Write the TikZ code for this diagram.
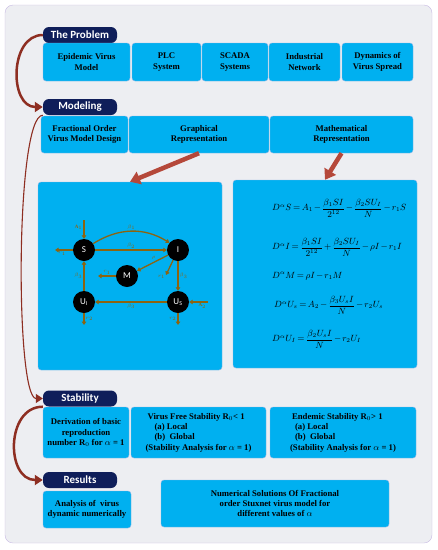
\documentclass[tikz,border=0pt]{standalone}
\usepackage{amsmath}
\usepackage{fontspec}
\setmainfont{Liberation Serif}
\setsansfont{Carlito}
\usetikzlibrary{arrows.meta}
\definecolor{cellblue}{HTML}{00B0F0}
\definecolor{cellline}{HTML}{8FB2E6}
\definecolor{tagnavy}{HTML}{0F1E5A}
\definecolor{pagebg}{HTML}{EDEEF2}
\definecolor{pageline}{HTML}{C7B9E2}
\definecolor{flowred}{HTML}{8E2E22}
\definecolor{bigred}{HTML}{B5483A}
\definecolor{linkbrown}{HTML}{8C6410}
\newcommand{\eqsp}{\medmuskip=2mu\relax\thickmuskip=3mu\relax}
\begin{document}
\begin{tikzpicture}[x=1pt, y=1pt,
    cell/.style = {draw=cellline, fill=cellblue, rounded corners=3pt, align=center, inner sep=1pt, font=\bfseries\fontsize{8.7}{10.3}\selectfont},
    tag/.style = {fill=tagnavy, rounded corners=6pt, text=white, minimum width=74, minimum height=16, inner sep=0pt, font=\sffamily\bfseries\fontsize{11}{12}\selectfont},
    flow/.style = {flowred, line width=2.5pt, -{Triangle[width=10pt,length=8pt]}},
    big/.style = {bigred, line width=4.5pt, -{Triangle[width=13pt,length=10pt]}},
    comp/.style = {circle, fill=black, text=white, minimum size=22, inner sep=0pt, font=\sffamily\fontsize{9}{9}\selectfont},
    link/.style = {linkbrown, line width=1.3pt, -{Triangle[width=4.5pt,length=3.5pt]}},
    rate/.style = {inner sep=1pt, font=\bfseries\fontsize{5}{5}\selectfont},
    eqn/.style = {anchor=west, inner sep=0pt, font=\fontsize{9}{11}\selectfont}]
    \useasboundingbox (0,0) rectangle (438,-550);
    \draw[pageline, fill=pagebg, rounded corners=8pt] (5,-5) rectangle (432,-543);

    % section tags
    \node[tag] (prob) at (80,-35) {The Problem};
    \node[tag] (mod) at (80,-107) {Modeling};
    \node[tag] (stab) at (80,-398.5) {Stability};
    \node[tag] (res) at (80,-480) {Results};

    % the problem
    \node[cell, minimum width=87, minimum height=38] (p1) at (86.5,-62) {Epidemic Virus\\Model};
    \node[cell, minimum width=69, minimum height=38] (p2) at (166.5,-62) {PLC\\System};
    \node[cell, minimum width=66, minimum height=38] (p3) at (235,-62) {SCADA\\Systems};
    \node[cell, minimum width=71, minimum height=38] (p4) at (304.5,-62) {Industrial\\Network};
    \node[cell, minimum width=71, minimum height=38] (p5) at (377.5,-62) {Dynamics of\\Virus Spread};

    % modeling
    \node[cell, minimum width=87, minimum height=37] (m1) at (84.5,-134.5) {Fractional Order\\Virus Model Design};
    \node[cell, minimum width=140, minimum height=37] (m2) at (199,-134.5) {Graphical\\Representation};
    \node[cell, minimum width=143, minimum height=37] (m3) at (341.5,-134.5) {Mathematical\\Representation};
    \node[cell, minimum width=184, minimum height=188] (lp) at (130,-276) {};
    \node[cell, minimum width=184, minimum height=188] (rp) at (325,-274) {};

    % stability
    \node[cell, minimum width=86, minimum height=51] (s1) at (86,-432.5) {Derivation of basic\\reproduction\\number R$_0$ for $\alpha$ = 1};
    \node[cell, minimum width=135, minimum height=51, align=left] (s2) at (198.5,-432.5) {\hspace*{2pt}Virus Free Stability R$_0$< 1\\\hspace*{9pt}(a) Local\\\hspace*{9pt}(b)\ \ Global\\(Stability Analysis for $\alpha$ = 1)};
    \node[cell, minimum width=146, minimum height=51, align=left] (s3) at (343,-432.5) {\hspace*{2pt}Endemic Stability R$_0$> 1\\\hspace*{5pt}(a) Local\\\hspace*{5pt}(b)\ \ Global\\(Stability Analysis for $\alpha$ = 1)};

    % results
    \node[cell, minimum width=88, minimum height=37] (r1) at (87,-509.5) {Analysis of\ \ virus\\dynamic numerically};
    \node[cell, minimum width=228, minimum height=47] (r2) at (275,-503.5) {Numerical Solutions Of Fractional\\order Stuxnet virus model for\\different values of $\alpha$};

    % flow arrows
    \draw[flow] (prob.west) to[out=180, in=180, looseness=1.2] (mod.west);
    \draw[flowred, line width=1.1pt, -{Triangle[width=9pt,length=7pt]}] (mod.south west) to[out=180, in=180, looseness=0.25] (stab.west);
    \draw[flow] (stab.south west) to[out=180, in=180, looseness=1.3] (res.west);
    \draw[big] (m2.south) -- (lp.north);
    \draw[big] (m3.south) -- (rp.north);

    % compartments
    \node[comp] (S) at (84,-250) {S};
    \node[comp] (I) at (178,-250) {I};
    \node[comp] (M) at (127,-276) {M};
    \node[comp] (UI) at (84,-302) {U\textsubscript{I}};
    \node[comp] (US) at (178,-302) {U\textsubscript{S}};
    \coordinate (Ain) at (84,-220);
    \coordinate (Sout) at (55,-250);
    \coordinate (Iout) at (166,-275);
    \coordinate (Mout) at (98,-276);
    \coordinate (Bin) at (208,-302);
    \coordinate (UIout) at (84,-325);
    \coordinate (USout) at (178,-325);
    \draw[link] (Ain) -- node[rate, left, pos=0.4] {A$_1$} (S);
    \draw[link] (S) -- node[rate, below, pos=0.6] {$r_1$} (Sout);
    \draw[link] (S.35) to[out=32, in=148] node[rate, above] {$\beta_1$} (I.140);
    \draw[link] (S) -- node[rate, above] {$\beta_2$} (I);
    \draw[link] (I) -- node[rate, above left, pos=0.35] {$\rho$} (M);
    \draw[link] (I) -- node[rate, below left, pos=0.9] {$r_1$} (Iout);
    \draw[link] (I) -- node[rate, right] {$\beta_3$} (US);
    \draw[link] (M) -- node[rate, above] {$r_1$} (Mout);
    \draw[link] (UI) -- node[rate, left] {$\beta_3$} (S);
    \draw[link] (US) -- node[rate, below] {$\beta_3$} (UI);
    \draw[link] (Bin) -- node[rate, below, pos=0.3] {A$_2$} (US);
    \draw[link] (UI) -- node[rate, right] {$r_2$} (UIout);
    \draw[link] (US) -- node[rate, left] {$r_2$} (USout);

    % equations
    \node[eqn] (e1) at (272,-208) {\eqsp$D^{\alpha}S = A_1 - \dfrac{\beta_1 SI}{2^{12}} - \dfrac{\beta_2 SU_I}{N} - r_1 S$};
    \node[eqn] (e2) at (272,-247) {\eqsp$D^{\alpha}I = \dfrac{\beta_1 SI}{2^{12}} + \dfrac{\beta_2 SU_I}{N} - \rho I - r_1 I$};
    \node[eqn] (e3) at (272,-276) {\eqsp$D^{\alpha}M = \rho I - r_1 M$};
    \node[eqn] (e4) at (274,-305) {\eqsp$D^{\alpha}U_s = A_2 - \dfrac{\beta_3 U_s I}{N} - r_2 U_s$};
    \node[eqn] (e5) at (272,-339) {\eqsp$D^{\alpha}U_I = \dfrac{\beta_2 U_s I}{N} - r_2 U_I$};
\end{tikzpicture}
\end{document}
